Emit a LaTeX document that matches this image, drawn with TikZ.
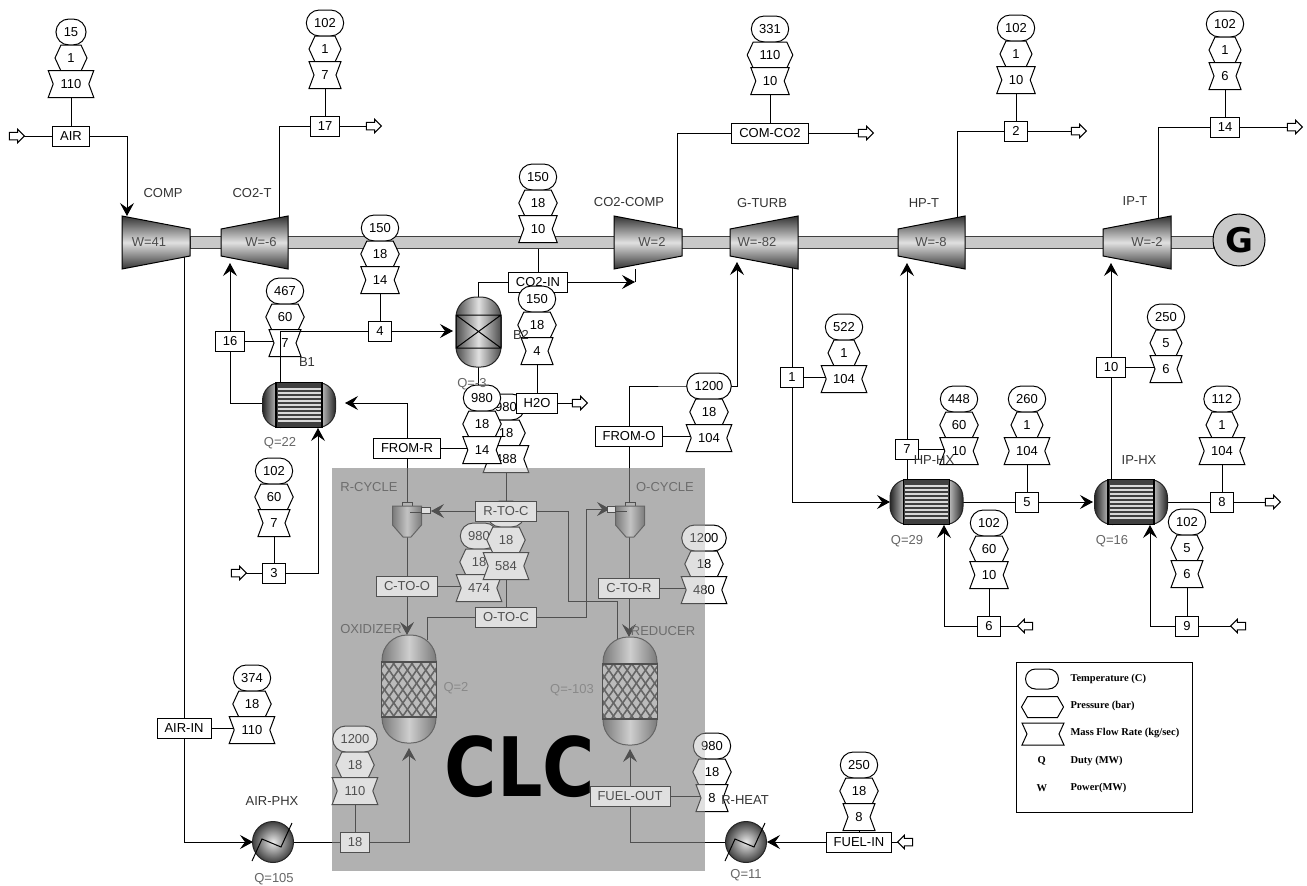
\documentclass[tikz,border=0pt]{standalone}
\usepackage{fontspec}
\setmainfont{Liberation Sans}
\newfontfamily\legendfont{Liberation Serif}
\newfontfamily\bigfont{DejaVu Sans}
\usepackage{xstring}
\usepackage{tikz}
\usetikzlibrary{arrows.meta,calc,backgrounds,patterns.meta,shapes.misc,shapes.arrows}

\definecolor{clcbase}{gray}{0.68}
\definecolor{clcveil}{gray}{0.72}
\definecolor{shaftgray}{gray}{0.79}
\newcommand{\tagfont}{\fontsize{13}{13}\selectfont}

\tikzset{
  stream/.style={draw,fill=white,inner xsep=7.5pt,inner ysep=0pt,minimum height=20pt,minimum width=20pt,font=\tagfont},
  tagtext/.style={inner sep=0pt,minimum height=26pt,font=\tagfont},
  tempnode/.style={rounded rectangle,draw,fill=white,inner xsep=7pt,inner ysep=0pt,minimum height=26pt,minimum width=26pt,font=\tagfont},
  taglook/.style={draw=black,fill=white},
  eqlabel/.style={inner sep=0pt,text=black!80,font=\tagfont},
  dutylabel/.style={inner sep=0pt,text=black!60,font=\tagfont},
  hollow/.style={single arrow,draw,fill=white,inner sep=0pt,minimum height=15pt,single arrow head extend=3pt,line width=1pt,execute at begin node={\rule{0pt}{6.5pt}}},
  hollowback/.style={hollow,shape border rotate=180},
  legendtext/.style={anchor=west,inner sep=0pt,font=\legendfont\bfseries\fontsize{10.5}{11}\selectfont},
  machine/.style={draw=black,top color=black!80,bottom color=black!80,middle color=black!12},
  barrel/.style={draw=black!85,left color=black!70,right color=black!70,middle color=black!12},
}

% x, y, half width, half height
\newcommand{\hexshape}[4]{\path[taglook] (#1-#3+6,#2-#4) -- (#1+#3-6,#2-#4) -- (#1+#3,#2) -- (#1+#3-6,#2+#4) -- (#1-#3+6,#2+#4) -- (#1-#3,#2) -- cycle;}
\newcommand{\hourshape}[4]{\path[taglook] (#1-#3,#2-#4) -- (#1+#3,#2-#4) -- (#1+#3-5,#2) -- (#1+#3,#2+#4) -- (#1-#3,#2+#4) -- (#1-#3+5,#2) -- cycle;}

% name, x, y of pressure, temperature, pressure, flow
\newcommand{\streamtag}[6]{%
  \node[tempnode] (#1t) at (#2,#3-26) {#4};
  \StrLen{#5}[\ndig]\pgfmathsetmacro{\hw}{max(16,3.6*\ndig+12)}
  \hexshape{#2}{#3}{\hw}{13}
  \node[tagtext] (#1p) at (#2,#3) {#5};
  \StrLen{#6}[\ndig]\pgfmathsetmacro{\hw}{max(16,3.6*\ndig+12)}
  \hourshape{#2}{#3+26}{\hw}{13.5}
  \node[tagtext] (#1m) at (#2,#3+26) {#6};
}

% name, left x, left half height, right x, right half height, x of text, text
\newcommand{\turbine}[7]{%
  \path[machine] (#2,242.5-#3) -- (#4,242.5-#5) -- (#4,242.5+#5) -- (#2,242.5+#3) -- cycle;
  \node[inner sep=0pt,text=black!70,font=\tagfont] (#1) at (#6,242) {#7};
}

% shell and tube exchanger: x, y
\newcommand{\shellhx}[2]{%
  \path[draw=black!85,rounded corners=18pt,left color=black!85,right color=black!85,middle color=black!8] (#1-36.5,#2-22.5) rectangle (#1,#2+22.5);
  \path[draw=black!85,rounded corners=18pt,left color=black!85,right color=black!85,middle color=black!8] (#1,#2-22.5) rectangle (#1+36.5,#2+22.5);
  \filldraw[fill=black!75,line width=1.5pt] (#1-23,#2-22.5) rectangle (#1+23,#2+22.5);
  \foreach \d in {-16,-12,...,16} {\draw[black!15,line width=1.7pt] (#1-21.5,#2+\d) -- (#1+21.5,#2+\d);}
}

% cyclone: x, sign of the side inlet, y of the inlet
\newcommand{\cyclone}[3]{%
  \filldraw[fill=black!30,line width=.8pt] (#1-5,502) rectangle (#1+5,507);
  \path[draw=black!85,left color=black!70,right color=black!70,middle color=black!20] (#1-14.5,506) -- (#1+14.5,506) -- (#1+14.5,525) -- (#1+4,537) -- (#1-4,537) -- (#1-14.5,525) -- cycle;
  \filldraw[fill=white,line width=.8pt] (#1+#2*14.5,#3-3) rectangle (#1+#2*23,#3+3);
  \draw[line width=.8pt] (#1+#2*14.5,#3+2) -- (#1+#2*3,#3+2);
}

% packed vessel: x, y of the top
\newcommand{\packed}[2]{%
  \path[barrel,rounded corners=25pt] (#1-27,#2) rectangle (#1+27,#2+108);
  \filldraw[fill=black!25,line width=1.5pt] (#1-27.5,#2+27) rectangle (#1+27.5,#2+82);
  \fill[pattern={Lines[angle=55,distance=7.5pt,line width=1.6pt]},pattern color=black!85] (#1-27,#2+27) rectangle (#1+27,#2+82);
  \fill[pattern={Lines[angle=-55,distance=7.5pt,line width=1.6pt]},pattern color=black!85] (#1-27,#2+27) rectangle (#1+27,#2+82);
  \draw[line width=1.5pt] (#1-27.5,#2+27) rectangle (#1+27.5,#2+82);
}

% fired heater: x, y
\newcommand{\heater}[2]{%
  \path[draw=black!85,inner color=black!8,outer color=black!75] (#1,#2) circle (20.5);
  \draw (#1-21,#2+19) -- (#1-11,#2-3) -- (#1+8,#2+5) -- (#1+19,#2-19);
}

\begin{document}
\begin{tikzpicture}[x=1pt,y=-1pt,line width=1pt,>={Stealth[length=13pt,width=14pt,inset=5pt]}]
\useasboundingbox (0,0) rectangle (1307,886);

% ports on the equipment
\coordinate (comp-in) at (127,216);
\coordinate (comp-out) at (184,255);
\coordinate (co2t-in) at (230,263);
\coordinate (co2t-out) at (279,219);
\coordinate (co2c-in) at (635,269);
\coordinate (co2c-turn) at (635,282);
\coordinate (co2c-out) at (677,228);
\coordinate (gt-in) at (737,262);
\coordinate (gt-out) at (792,266);
\coordinate (hpt-in) at (907,263);
\coordinate (hpt-out) at (957,219);
\coordinate (ipt-in) at (1111,263);
\coordinate (ipt-out) at (1158,219);
\coordinate (b1-w) at (263,403);
\coordinate (b1-e) at (345,403);
\coordinate (b1-top) at (280,383);
\coordinate (b1-bot) at (318,428);
\coordinate (b2-w) at (453,331);
\coordinate (b2-top) at (478,298);
\coordinate (b2-bot) at (478,366);
\coordinate (hphx-w) at (890,502);
\coordinate (hphx-e) at (963,502);
\coordinate (hphx-top) at (907,480);
\coordinate (hphx-bot) at (944,525);
\coordinate (iphx-w) at (1093,502);
\coordinate (iphx-e) at (1167,502);
\coordinate (iphx-top) at (1111,480);
\coordinate (iphx-bot) at (1150,525);
\coordinate (rc-top) at (407,503);
\coordinate (rc-bot) at (407,536);
\coordinate (rc-in) at (431,511);
\coordinate (oc-top) at (629,503);
\coordinate (oc-bot) at (629,536);
\coordinate (oc-in) at (610,509);
\coordinate (oc-turn) at (586,509);
\coordinate (ox-top) at (409,635);
\coordinate (ox-top2) at (427,640);
\coordinate (ox-bot) at (409,748);
\coordinate (re-top) at (630,637);
\coordinate (re-top2) at (617,640);
\coordinate (re-bot) at (630,749);
\coordinate (re-turn) at (568,601);
\coordinate (phx-w) at (253,842);
\coordinate (phx-e) at (293,842);
\coordinate (rh-w) at (725,842);
\coordinate (rh-e) at (767,842);

\filldraw[fill=shaftgray,draw=black!75,line width=1pt] (190,236) rectangle (1213,248);

\turbine{compw}{122}{26.5}{190}{13.5}{149}{W=41}
\turbine{co2tw}{221}{13.5}{288}{26.5}{261}{W=-6}
\turbine{co2cw}{614}{26.5}{682}{13.5}{652}{W=2}
\turbine{gtw}{730}{13.5}{798}{26.5}{757}{W=-82}
\turbine{hptw}{898}{13.5}{965}{26.5}{931}{W=-8}
\turbine{iptw}{1103}{13.5}{1171}{26.5}{1147}{W=-2}
\node[draw,circle,fill=shaftgray,minimum size=52pt,inner sep=0pt,font=\bigfont\bfseries\fontsize{34}{34}\selectfont] (gen) at (1239,240) {G};

\shellhx{299}{405}
\shellhx{926.5}{502}
\shellhx{1131}{502}

% B2
\path[barrel,rounded corners=20pt] (456,297) rectangle (501,367);
\draw (456,315) rectangle (501,348) (456,315) -- (501,348) (456,348) -- (501,315);

\cyclone{407}{1}{510}
\cyclone{630}{-1}{509}
\packed{409}{635}
\packed{630}{637}
\heater{273}{842}
\heater{746}{842}

% stream tags and boxes
\streamtag{tagair}{71}{58}{15}{1}{110}
\streamtag{tagseven}{325}{49}{102}{1}{7}
\streamtag{tagfour}{380}{254}{150}{18}{14}
\streamtag{tagsixteen}{285}{317}{467}{60}{7}
\streamtag{tagcoin}{538}{203}{150}{18}{10}
\streamtag{tagcom}{770}{55}{331}{110}{10}
\streamtag{tagtwo}{1016}{54}{102}{1}{10}
\streamtag{tagfourteen}{1225}{50}{102}{1}{6}
\streamtag{tagone}{844}{353}{522}{1}{104}
\streamtag{tagfromo}{709}{412}{1200}{18}{104}
\streamtag{tagsvn}{959}{425}{448}{60}{10}
\streamtag{tagfive}{1027}{425}{260}{1}{104}
\streamtag{tageight}{1222}{425}{112}{1}{104}
\streamtag{tagten}{1166}{343}{250}{5}{6}
\streamtag{tagsix}{989}{549}{102}{60}{10}
\streamtag{tagnine}{1187}{548}{102}{5}{6}
\streamtag{tagthree}{274}{497}{102}{60}{7}
\streamtag{tagairin}{252}{704}{374}{18}{110}
\streamtag{tageighteen}{355}{765}{1200}{18}{110}
\streamtag{tagfout}{712}{772}{980}{18}{8}
\streamtag{tagfin}{859}{791}{250}{18}{8}
\streamtag{tagrtoc}{506}{433}{980}{18}{488}
\streamtag{tagfromr}{482}{424}{980}{18}{14}
\streamtag{tagctoo}{479}{562}{980}{18}{474}
\streamtag{tagotoc}{506}{540}{\phantom{980}}{18}{584}
\streamtag{tagctor}{704}{564}{1200}{18}{480}

\node[stream] (air) at (71,136) {AIR};
\node[stream] (s17) at (325,126) {17};
\node[stream] (s4) at (380,331) {4};
\node[stream] (s16) at (230,341) {16};
\node[stream] (h2o) at (537,403) {H2O};
\node[stream] (co2in) at (538,282) {CO2-IN};
\node[stream] (comco2) at (770,133) {COM-CO2};
\node[stream] (s2) at (1016,131) {2};
\node[stream] (s14) at (1225,127) {14};
\node[stream] (s1) at (792,377) {1};
\node[stream] (fromo) at (629,436) {FROM-O};
\node[stream] (s7) at (907,449) {7};
\node[stream] (s5) at (1027,502) {5};
\node[stream] (s8) at (1222,502) {8};
\node[stream] (s10) at (1111,367) {10};
\node[stream] (s6) at (989,626) {6};
\node[stream] (s9) at (1187,626) {9};
\node[stream] (s3) at (274,573) {3};
\node[stream] (airin) at (184,728) {AIR-IN};
\node[stream] (s18) at (355,842) {18};
\node[stream] (fuelout) at (630,796) {FUEL-OUT};
\node[stream] (fuelin) at (859,842) {FUEL-IN};
\node[stream] (fromr) at (407,448) {FROM-R};
\node[stream] (rtoc) at (506,511) {R-TO-C};
\node[stream] (ctoo) at (407,586) {C-TO-O};
\node[stream] (otoc) at (506,617) {O-TO-C};
\node[stream] (ctor) at (629,588) {C-TO-R};
\streamtag{tagwater}{537}{325}{150}{18}{4}

\node[hollow] (air-src) at (15,136) {};
\node[hollow] (s17-out) at (372,126) {};
\node[hollow] (com-out) at (864,133) {};
\node[hollow] (s2-out) at (1077,131) {};
\node[hollow] (s14-out) at (1293,127) {};
\node[hollow] (h2o-out) at (578,403) {};
\node[hollow] (s8-out) at (1271,502) {};
\node[hollow] (s3-src) at (237,573) {};
\node[hollowback] (s6-src) at (1027,626) {};
\node[hollowback] (s9-src) at (1240,626) {};
\node[hollowback] (fuel-src) at (907,842) {};

\begin{scope}[on background layer={line width=1pt}]
\fill[clcbase] (332,468) rectangle (705,871);
\draw (air) -- (air -| air-src);
\draw[->] (air) -| (comp-in);
\draw (tagairm) -- (air);
\draw (co2t-out) |- (s17);
\draw (s17) -- (s17 -| s17-out);
\draw (tagsevenm) -- (s17);
\draw (tagfourm) -- (s4);
\draw (b1-w) -| (s16);
\draw[->] (s16) -- (co2t-in);
\draw (s16) -- (s16 -| tagsixteenm);
\draw (b2-top) |- (co2in);
\draw (tagcoinm) -- (co2in);
\draw[->] (co2in) -- (co2c-turn);
\draw (co2c-turn) -- (co2c-in);
\draw (co2c-out) |- (comco2);
\draw (tagcomm) -- (comco2);
\draw (comco2) -- (comco2 -| com-out);
\draw (hpt-out) |- (s2);
\draw (tagtwom) -- (s2);
\draw (s2) -- (s2 -| s2-out);
\draw (ipt-out) |- (s14);
\draw (tagfourteenm) -- (s14);
\draw (s14) -- (s14 -| s14-out);
\draw (b2-bot) |- (h2o);
\draw (tagwaterm) -- (h2o);
\draw (h2o) -- (h2o -| h2o-out);
\draw[->] (fromr) |- (b1-e);
\draw (fromr) -- (fromr -| tagfromrm);
\draw (fromr) -- (rc-top);
\draw (rc-bot) -- (ctoo);
\draw (ctoo) -- (ctoo -| tagctoom);
\draw[->] (ctoo) -- (ctoo |- ox-top);
\draw (tagrtocm) -- (rtoc);
\draw[->] (rtoc.west) -- (rc-in);
\draw (rtoc.east) -| (re-turn) -| (re-top2);
\draw (tagotocm) -- (otoc);
\draw (otoc) -| (ox-top2);
\draw[->] (otoc) -| (oc-turn) -- (oc-in);
\draw[->] (fromo) |- (tagfromot.west) -| (gt-in);
\draw (fromo) -- (fromo -| tagfromom);
\draw (fromo) -- (oc-top);
\draw (oc-bot) -- (ctor);
\draw (ctor) -- (ctor -| tagctorm);
\draw[->] (ctor) -- (ctor |- re-top);
\draw (gt-out) -- (s1);
\draw[->] (s1) |- (hphx-w);
\draw (s1) -- (s1 -| tagonem);
\draw (hphx-top) -- (s7);
\draw[->] (s7) -- (hpt-in);
\draw (s7) -- (s7 -| tagsvnm);
\draw (hphx-e) -- (s5);
\draw (tagfivem) -- (s5);
\draw[->] (s5) -- (iphx-w);
\draw (iphx-top) -- (s10);
\draw[->] (s10) -- (ipt-in);
\draw (s10) -- (s10 -| tagtenm);
\draw (iphx-e) -- (s8);
\draw (tageightm) -- (s8);
\draw (s8) -- (s8 -| s8-out);
\draw (s6) -- (s6 -| s6-src);
\draw (tagsixm) -- (s6);
\draw[->] (s6) -| (hphx-bot);
\draw (s9) -- (s9 -| s9-src);
\draw (tagninem) -- (s9);
\draw[->] (s9) -| (iphx-bot);
\draw (s3) -- (s3 -| s3-src);
\draw (tagthreem) -- (s3);
\draw[->] (s3) -| (b1-bot);
\draw (comp-out) -- (airin);
\draw (airin) -- (airin -| tagairinm);
\draw[->] (airin) |- (phx-w);
\draw (phx-e) -- (s18);
\draw (tageighteenm) -- (s18);
\draw[->] (s18) -| (ox-bot);
\draw (rh-w) -| (fuelout);
\draw[->] (fuelout) -- (re-bot);
\draw (fuelout) -- (fuelout -| tagfoutm);
\draw (fuelin) -- (fuelin -| fuel-src);
\draw (tagfinm) -- (fuelin);
\draw[->] (fuelin) -- (rh-e);
\end{scope}

\draw (b1-top) |- (s4);
\draw[->] (s4) -- (b2-w);

% labels
\node[eqlabel] (l-comp) at (163,193) {COMP};
\node[eqlabel] (l-co2t) at (252,193) {CO2-T};
\node[eqlabel] (l-co2c) at (629,202) {CO2-COMP};
\node[eqlabel] (l-gt) at (762,203) {G-TURB};
\node[eqlabel] (l-hpt) at (924,203) {HP-T};
\node[eqlabel] (l-ipt) at (1135,201) {IP-T};
\node[eqlabel] (l-b1) at (307,362) {B1};
\node[eqlabel] (l-b2) at (521,335) {B2};
\node[eqlabel] (l-hphx) at (934,460) {HP-HX};
\node[eqlabel] (l-iphx) at (1139,460) {IP-HX};
\node[eqlabel] (l-rc) at (369,487) {R-CYCLE};
\node[eqlabel] (l-oc) at (665,487) {O-CYCLE};
\node[eqlabel] (l-ox) at (371,629) {OXIDIZER};
\node[eqlabel] (l-re) at (663,631) {REDUCER};
\node[eqlabel] (l-phx) at (272,801) {AIR-PHX};
\node[eqlabel] (l-rh) at (745,800) {R-HEAT};
\node[dutylabel] (q-b1) at (280,443) {Q=22};
\node[dutylabel] (q-b2) at (472,384) {Q=-3};
\node[dutylabel] (q-hp) at (907,541) {Q=29};
\node[dutylabel] (q-ip) at (1112,541) {Q=16};
\node[dutylabel] (q-ox) at (456,688) {Q=2};
\node[dutylabel] (q-re) at (572,690) {Q=-103};
\node[dutylabel] (q-phx) at (274,879) {Q=105};
\node[dutylabel] (q-rh) at (746,875) {Q=11};

% CLC block
\fill[clcveil,opacity=.435] (332,468) rectangle (705,871);
\node[inner sep=0pt,xscale=.87,transform shape,font=\bigfont\bfseries\fontsize{82}{82}\selectfont] (clc) at (520,767) {CLC};

% legend
\draw (1016,662) rectangle (1192,812);
\node[rounded rectangle,draw,minimum width=33pt,minimum height=20pt,inner sep=0pt] (k-t) at (1042,679) {};
\hexshape{1042.5}{707}{21}{10.5}
\hourshape{1043}{734}{21}{11}
\node[legendtext] (k-q) at (1037,761) {Q};
\node[legendtext] (k-w) at (1036,788) {W};
\node[legendtext] (k-tt) at (1070,679) {Temperature (C)};
\node[legendtext] (k-pt) at (1070,706) {Pressure (bar)};
\node[legendtext] (k-mt) at (1070,733) {Mass Flow Rate (kg/sec)};
\node[legendtext] (k-qt) at (1070,761) {Duty (MW)};
\node[legendtext] (k-wt) at (1070,788) {Power(MW)};
\end{tikzpicture}
\end{document}
